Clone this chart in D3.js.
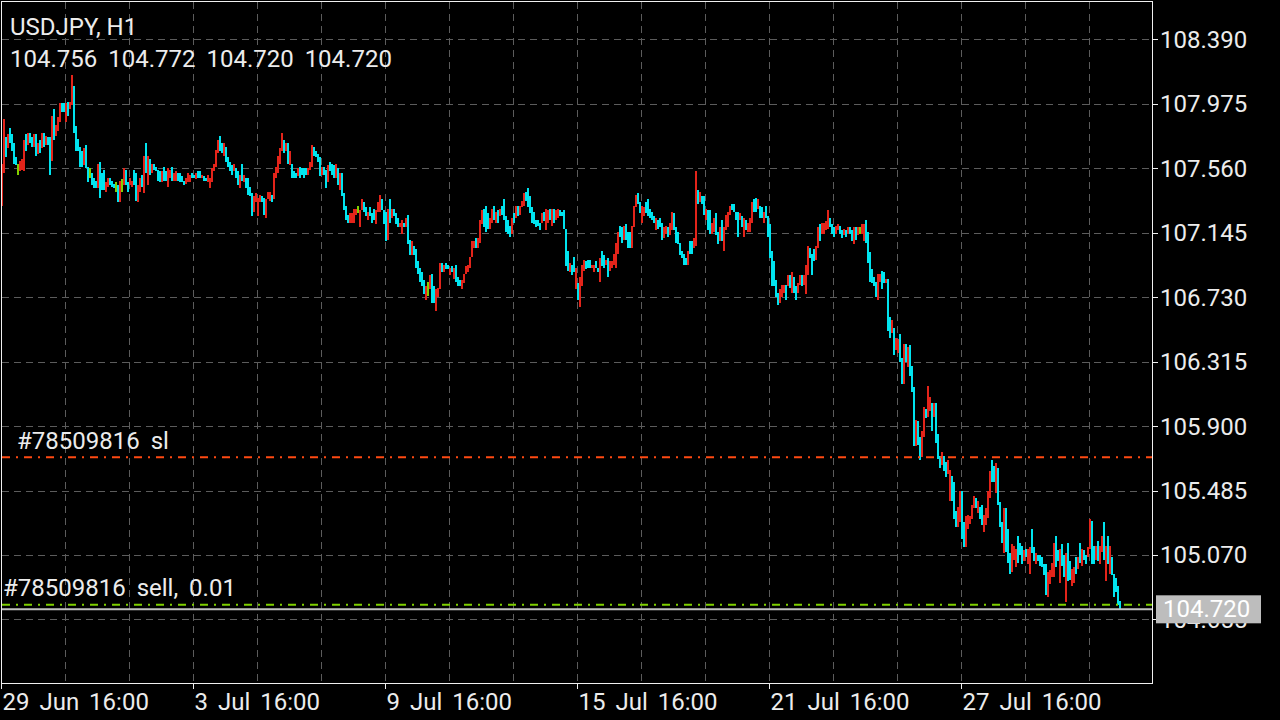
<!DOCTYPE html>
<html><head><meta charset="utf-8">
<script src="https://cdn.jsdelivr.net/npm/d3@7"></script>
<style>html,body{margin:0;padding:0;background:#000;overflow:hidden}svg{display:block}</style>
</head><body>
<svg id="c" width="1280" height="720"></svg>
<script>
// ---------- data ----------
const symbol = "USDJPY, H1";
const priceTicks = [108.390,107.975,107.560,107.145,106.730,106.315,105.900,105.485,105.070,104.655];
const timeTickBars = [0,96,192,288,384,480];
const timeTickLabels = ["29 Jun 16:00","3 Jul 16:00","9 Jul 16:00","15 Jul 16:00","21 Jul 16:00","27 Jul 16:00"];

// H1 bars, high / low, one value per hour
const high = [
107.59,107.88,107.76,107.78,107.82,107.78,107.72,107.63,107.59,107.61,
107.62,107.74,107.78,107.79,107.79,107.76,107.78,107.78,107.72,107.74,
107.79,107.79,107.77,107.76,107.76,107.90,107.94,107.84,107.89,107.98,
107.98,107.98,107.98,107.99,107.99,108.16,108.09,107.83,107.75,107.70,
107.67,107.69,107.71,107.57,107.56,107.53,107.50,107.48,107.59,107.60,
107.53,107.55,107.47,107.50,107.50,107.48,107.46,107.47,107.45,107.48,
107.49,107.56,107.55,107.47,107.50,107.48,107.55,107.53,107.45,107.50,
107.52,107.64,107.72,107.64,107.62,107.59,107.59,107.57,107.55,107.54,
107.54,107.57,107.54,107.56,107.55,107.57,107.53,107.54,107.53,107.53,
107.51,107.48,107.50,107.53,107.52,107.53,107.52,107.53,107.54,107.54,
107.52,107.51,107.50,107.52,107.50,107.56,107.59,107.68,107.74,107.77,
107.72,107.72,107.70,107.63,107.60,107.58,107.59,107.56,107.54,107.52,
107.59,107.52,107.50,107.50,107.44,107.40,107.38,107.40,107.37,107.39,
107.38,107.37,107.36,107.41,107.41,107.39,107.53,107.57,107.64,107.69,
107.79,107.74,107.72,107.72,107.67,107.59,107.54,107.53,107.56,107.57,
107.56,107.56,107.56,107.56,107.60,107.71,107.70,107.67,107.65,107.63,
107.57,107.57,107.55,107.58,107.60,107.59,107.58,107.59,107.56,107.53,
107.53,107.40,107.32,107.26,107.27,107.27,107.30,107.30,107.32,107.29,
107.36,107.34,107.31,107.28,107.31,107.27,107.30,107.29,107.34,107.39,
107.36,107.29,107.28,107.30,107.36,107.30,107.30,107.27,107.24,107.21,
107.23,107.21,107.24,107.26,107.10,107.09,107.06,107.04,106.96,106.92,
106.89,106.84,106.80,106.83,106.87,106.88,106.80,106.78,106.79,106.95,
106.95,106.94,106.95,106.94,106.92,106.93,106.92,106.94,106.86,106.84,
106.84,106.88,106.93,106.94,106.99,107.09,107.09,107.11,107.11,107.23,
107.29,107.30,107.32,107.27,107.24,107.30,107.32,107.28,107.29,107.30,
107.32,107.36,107.25,107.23,107.19,107.24,107.27,107.32,107.32,107.32,
107.35,107.40,107.41,107.43,107.38,107.31,107.28,107.23,107.23,107.21,
107.27,107.28,107.30,107.29,107.30,107.30,107.30,107.29,107.30,107.29,
107.28,107.29,107.17,107.03,106.95,106.94,106.99,106.92,106.82,106.86,
106.94,106.97,106.96,106.97,106.97,106.94,106.94,106.96,106.92,106.98,
107.03,107.00,106.97,106.98,106.96,106.96,107.01,107.08,107.15,107.19,
107.18,107.19,107.20,107.15,107.15,107.19,107.32,107.39,107.40,107.34,
107.32,107.31,107.34,107.36,107.30,107.28,107.25,107.24,107.23,107.24,
107.21,107.18,107.19,107.18,107.21,107.28,107.27,107.18,107.15,107.08,
107.03,107.01,106.98,107.03,107.09,107.09,107.11,107.54,107.42,107.41,
107.38,107.38,107.30,107.29,107.29,107.21,107.24,107.27,107.15,107.18,
107.23,107.18,107.26,107.28,107.32,107.33,107.33,107.28,107.28,107.27,
107.25,107.24,107.23,107.21,107.24,107.34,107.36,107.37,107.36,107.32,
107.31,107.28,107.32,107.25,107.20,107.03,106.96,106.84,106.76,106.78,
106.81,106.81,106.81,106.87,106.87,106.89,106.86,106.80,106.82,106.87,
106.87,106.87,106.94,107.06,107.05,107.01,107.04,107.06,107.18,107.20,
107.21,107.21,107.22,107.29,107.24,107.20,107.18,107.19,107.20,107.19,
107.16,107.17,107.16,107.18,107.18,107.16,107.18,107.18,107.18,107.18,
107.20,107.20,107.23,107.15,107.02,106.91,106.86,106.83,106.88,106.88,
106.90,106.89,106.85,106.85,106.60,106.58,106.53,106.47,106.46,106.49,
106.34,106.43,106.43,106.41,106.42,106.29,106.15,105.94,105.93,105.83,
105.87,106.02,106.01,106.16,106.09,106.05,106.05,106.05,105.85,105.71,
105.73,105.71,105.67,105.68,105.62,105.58,105.54,105.35,105.38,105.48,
105.48,105.28,105.32,105.33,105.32,105.39,105.45,105.44,105.42,105.38,
105.39,105.33,105.37,105.48,105.61,105.68,105.64,105.66,105.63,105.41,
105.28,105.37,105.37,105.24,105.08,105.14,105.13,105.11,105.19,105.15,
105.13,105.10,105.11,105.11,105.12,105.24,105.12,105.08,105.07,105.07,
105.06,105.01,105.01,104.96,104.97,105.02,105.15,105.19,105.10,105.11,
105.14,105.07,105.08,105.15,105.03,104.98,104.99,105.06,105.06,105.15,
105.11,105.10,105.07,105.12,105.30,105.29,105.13,105.13,105.16,105.13,
105.19,105.28,105.13,105.19,105.13,105.06,104.95,104.92,104.87,104.772
];
const low = [
107.32,107.53,107.63,107.69,107.72,107.67,107.59,107.58,107.52,107.54,
107.55,107.54,107.67,107.71,107.72,107.70,107.70,107.64,107.65,107.66,
107.69,107.70,107.71,107.71,107.52,107.61,107.74,107.77,107.80,107.86,
107.92,107.92,107.86,107.90,107.94,107.97,107.79,107.67,107.67,107.57,
107.57,107.58,107.56,107.47,107.50,107.45,107.43,107.43,107.43,107.37,
107.42,107.42,107.41,107.44,107.45,107.44,107.43,107.41,107.34,107.34,
107.41,107.45,107.45,107.41,107.45,107.44,107.45,107.35,107.34,107.41,
107.44,107.40,107.53,107.45,107.52,107.53,107.55,107.54,107.48,107.47,
107.47,107.48,107.48,107.44,107.50,107.48,107.48,107.48,107.48,107.47,
107.47,107.45,107.46,107.47,107.47,107.50,107.50,107.49,107.50,107.50,
107.50,107.48,107.48,107.47,107.43,107.47,107.54,107.57,107.66,107.67,
107.66,107.64,107.60,107.57,107.54,107.52,107.54,107.50,107.45,107.43,
107.48,107.47,107.43,107.39,107.38,107.25,107.28,107.34,107.25,107.34,
107.34,107.26,107.24,107.36,107.35,107.34,107.36,107.50,107.53,107.59,
107.67,107.66,107.67,107.59,107.58,107.50,107.50,107.50,107.51,107.50,
107.52,107.50,107.52,107.52,107.55,107.57,107.64,107.63,107.60,107.51,
107.52,107.52,107.43,107.47,107.54,107.52,107.50,107.50,107.45,107.42,
107.38,107.29,107.23,107.21,107.21,107.21,107.21,107.26,107.27,107.18,
107.29,107.28,107.25,107.23,107.25,107.21,107.23,107.20,107.28,107.28,
107.29,107.20,107.09,107.10,107.21,107.24,107.25,107.20,107.18,107.18,
107.14,107.18,107.18,107.07,107.00,107.00,107.00,106.92,106.88,106.83,
106.80,106.75,106.71,106.74,106.78,106.69,106.69,106.64,106.73,106.78,
106.89,106.89,106.91,106.91,106.87,106.89,106.85,106.83,106.80,106.80,
106.78,106.82,106.88,106.89,106.92,106.99,107.05,107.05,107.05,107.08,
107.20,107.18,107.15,107.17,107.17,107.21,107.23,107.21,107.21,107.25,
107.26,107.23,107.15,107.14,107.12,107.14,107.21,107.24,107.25,107.26,
107.31,107.32,107.35,107.31,107.27,107.21,107.20,107.18,107.19,107.16,
107.21,107.22,107.16,107.21,107.23,107.19,107.21,107.23,107.24,107.25,
107.25,107.17,106.93,106.90,106.89,106.87,106.89,106.78,106.71,106.67,
106.80,106.90,106.91,106.92,106.92,106.92,106.89,106.92,106.89,106.83,
106.93,106.92,106.94,106.86,106.90,106.92,106.94,106.92,107.01,107.12,
107.08,107.10,107.10,107.05,107.05,107.05,107.18,107.31,107.33,107.27,
107.21,107.25,107.27,107.25,107.24,107.23,107.21,107.16,107.17,107.18,
107.10,107.11,107.14,107.12,107.13,107.16,107.16,107.08,107.07,107.00,
106.98,106.94,106.94,106.94,107.01,107.01,107.05,107.06,107.33,107.34,
107.33,107.26,107.23,107.16,107.14,107.14,107.15,107.13,107.07,107.09,
107.09,107.03,107.16,107.18,107.26,107.29,107.28,107.23,107.12,107.23,
107.18,107.12,107.16,107.15,107.15,107.21,107.28,107.28,107.30,107.24,
107.24,107.21,107.24,107.12,106.98,106.80,106.80,106.73,106.68,106.69,
106.73,106.76,106.71,106.80,106.79,106.76,106.76,106.71,106.76,106.81,
106.80,106.81,106.75,106.87,106.98,106.87,106.96,106.97,107.05,107.09,
107.14,107.14,107.16,107.17,107.18,107.14,107.12,107.14,107.16,107.14,
107.11,107.13,107.12,107.14,107.14,107.09,107.07,107.10,107.13,107.14,
107.14,107.09,107.08,106.95,106.83,106.82,106.80,106.73,106.71,106.83,
106.78,106.82,106.82,106.51,106.47,106.50,106.36,106.39,106.37,106.31,
106.17,106.17,106.31,106.28,106.22,106.12,105.77,105.77,105.78,105.68,
105.70,105.83,105.95,105.96,106.00,105.87,105.96,105.79,105.69,105.63,
105.65,105.61,105.57,105.59,105.42,105.42,105.30,105.25,105.25,105.28,
105.17,105.12,105.12,105.24,105.27,105.30,105.37,105.37,105.34,105.30,
105.26,105.22,105.26,105.31,105.44,105.54,105.54,105.47,105.39,105.25,
105.15,105.08,105.09,105.02,104.95,104.96,105.04,104.99,105.02,105.07,
105.01,105.03,105.06,105.01,104.95,105.08,105.03,105.01,105.03,105.00,
104.99,104.94,104.81,104.80,104.88,104.93,104.93,104.99,105.03,104.89,
105.00,104.93,104.77,104.90,104.91,104.87,104.89,104.95,104.98,105.02,
105.00,105.04,105.01,105.06,105.11,105.01,105.01,105.04,105.03,105.01,
105.09,105.04,104.90,105.01,104.95,104.94,104.80,104.83,104.75,104.720
];
// bar direction: U = close above open, D = close below open, N = unchanged
const barDir = [
"UUDUDDDDNU","UUDUDDUDUD","UDUDDUDUUU","DDUDUUDDDD","DUDDNDDDUD","DDUUDDDNDU","NUDDUUDDUU","DUDUDUDDDD",
"UDDUUDUUDD","DDUUUDDUDD","UDDUUUUUUD","DUDDDDUDDU","DUDDDDUUUU","DDUUUDUUUU","UDUDUDDDUD","DDDUUUDDDD",
"UDDUDDDUDU","DDDDUUUUNU","UDDUDDDUUU","DDDUDUDDDU","UDUDDUDDDD","DDUNUDDUUU","DUDDUDUDDD","UUUUUUUDUU",
"UDDDUUDUDU","DDDDDUDUDU","UUDDDDDDDD","UDUUDUDUUD","DDDDUDDUDU","UUDDDUUDDU","DDUDUUUUUD","DUDDDUUUDD",
"UUDDDDDUDD","DUUDUUDDDD","DDDUDDUUDU","DDUDDUUDDU","DUUUUDDDDU","DUDUUUDDUD","DUDDDDDDDU","UUDUDUDDUU",
"DUUUDDDUUD","UUUUDDDUUD","DUDUDDUDUN","UUDDDDDDUU","DDUDDUDUUD","DUDUDDDUDD","UUDUUDUDDD","UDDUUDDDUU",
"DDUUUUUDUD","DUUUUDDUDD","DUDDDUUUDD","DUDUUDDUDD","DDDUUUUDDU","DDUDDUUDUD","UDDUUDDUDU","UDUDUDDDDD"
].join("");
const lastOpen = 104.756, lastHigh = 104.772, lastLow = 104.720, lastClose = 104.720;
const orderTicket = "#78509816";
const sellPrice = 104.750, sellLots = "0.01";
const slPrice = 105.700;
const bidPrice = 104.720;

// ---------- drawing ----------
const FONT = "Roboto, 'Noto Sans', sans-serif";
const svg = d3.select("#c");
svg.append("rect").attr("width",1280).attr("height",720).attr("fill","#000");

const y = d3.scaleLinear().domain([104.239,108.631]).range([684,2]);
const x = d3.scaleLinear().domain([0,576]).range([1,1153]);

const colors = {U:"#e3241a", D:"#00e4ef", N:"#80d000"};

// grid
const grid = svg.append("g").attr("stroke","#5c5c5c").attr("stroke-width",1).attr("stroke-dasharray","7,5");
grid.selectAll("line.v").data(d3.range(32,576,32)).join("line")
  .attr("x1",d=>Math.round(x(d))+0.5).attr("x2",d=>Math.round(x(d))+0.5)
  .attr("y1",2).attr("y2",683);
grid.selectAll("line.h").data(priceTicks).join("line")
  .attr("x1",2).attr("x2",1152)
  .attr("y1",d=>Math.round(y(d))+0.5).attr("y2",d=>Math.round(y(d))+0.5);

// bars
svg.append("g").attr("shape-rendering","crispEdges")
  .selectAll("rect").data(high.map((h,i)=>({i,h,l:low[i],d:barDir[i]}))).join("rect")
  .attr("x",d=>x(d.i)).attr("width",2)
  .attr("y",d=>y(d.h)).attr("height",d=>Math.max(1,y(d.l)-y(d.h)))
  .attr("fill",d=>colors[d.d]);

// order lines
svg.append("line").attr("x1",2).attr("x2",1152).attr("y1",y(slPrice)).attr("y2",y(slPrice))
  .attr("stroke","#ff4a12").attr("stroke-width",2).attr("stroke-dasharray","8,6,2,6");
svg.append("line").attr("x1",2).attr("x2",1152).attr("y1",y(sellPrice)).attr("y2",y(sellPrice))
  .attr("stroke","#7fd000").attr("stroke-width",2).attr("stroke-dasharray","8,6,2,6");
svg.append("line").attr("x1",2).attr("x2",1152).attr("y1",y(bidPrice)).attr("y2",y(bidPrice))
  .attr("stroke","#c0c0c0").attr("stroke-width",2);

const txt = (s,xx,yy,opt={}) => svg.append("text").attr("x",xx).attr("y",yy)
  .attr("font-family",FONT).attr("font-size",opt.size||24).attr("fill",opt.fill||"#ececec")
  .attr("word-spacing", opt.ws==null ? 5 : opt.ws).text(s);

txt(orderTicket+" sl", 17, y(slPrice)-8);
txt(orderTicket+" sell, "+sellLots, 3, y(sellPrice)-9);

// header
txt(symbol, 10, 35, {ws:0});
txt([lastOpen,lastHigh,lastLow,lastClose].map(v=>v.toFixed(3)).join(" "), 10, 67);

// frame
svg.append("rect").attr("x",1.5).attr("y",1.5).attr("width",1151).attr("height",682)
  .attr("fill","none").attr("stroke","#f0f0f0").attr("stroke-width",1);

// price axis
const pa = svg.append("g");
pa.selectAll("line").data(priceTicks).join("line")
  .attr("x1",1153).attr("x2",1158).attr("y1",d=>Math.round(y(d))+0.5).attr("y2",d=>Math.round(y(d))+0.5)
  .attr("stroke","#f0f0f0");
pa.selectAll("text").data(priceTicks).join("text")
  .attr("x",1160).attr("y",d=>y(d)+8.5).attr("font-family",FONT).attr("font-size",24)
  .attr("fill","#ececec").text(d=>d.toFixed(3));

// bid label
svg.append("rect").attr("x",1156).attr("y",y(bidPrice)-14).attr("width",105).attr("height",28).attr("fill","#bdbdbd");
txt(bidPrice.toFixed(3), 1163, y(bidPrice)+8, {fill:"#ffffff"});

// time axis
const ta = svg.append("g");
ta.selectAll("line").data(timeTickBars).join("line")
  .attr("x1",d=>Math.round(x(d))+0.5).attr("x2",d=>Math.round(x(d))+0.5).attr("y1",684).attr("y2",689)
  .attr("stroke","#f0f0f0");
ta.selectAll("text").data(timeTickBars).join("text")
  .attr("x",d=>x(d)+1.5).attr("y",710).attr("font-family",FONT).attr("font-size",24)
  .attr("word-spacing",4).attr("fill","#ececec").text((d,i)=>timeTickLabels[i]);
</script>
</body></html>
